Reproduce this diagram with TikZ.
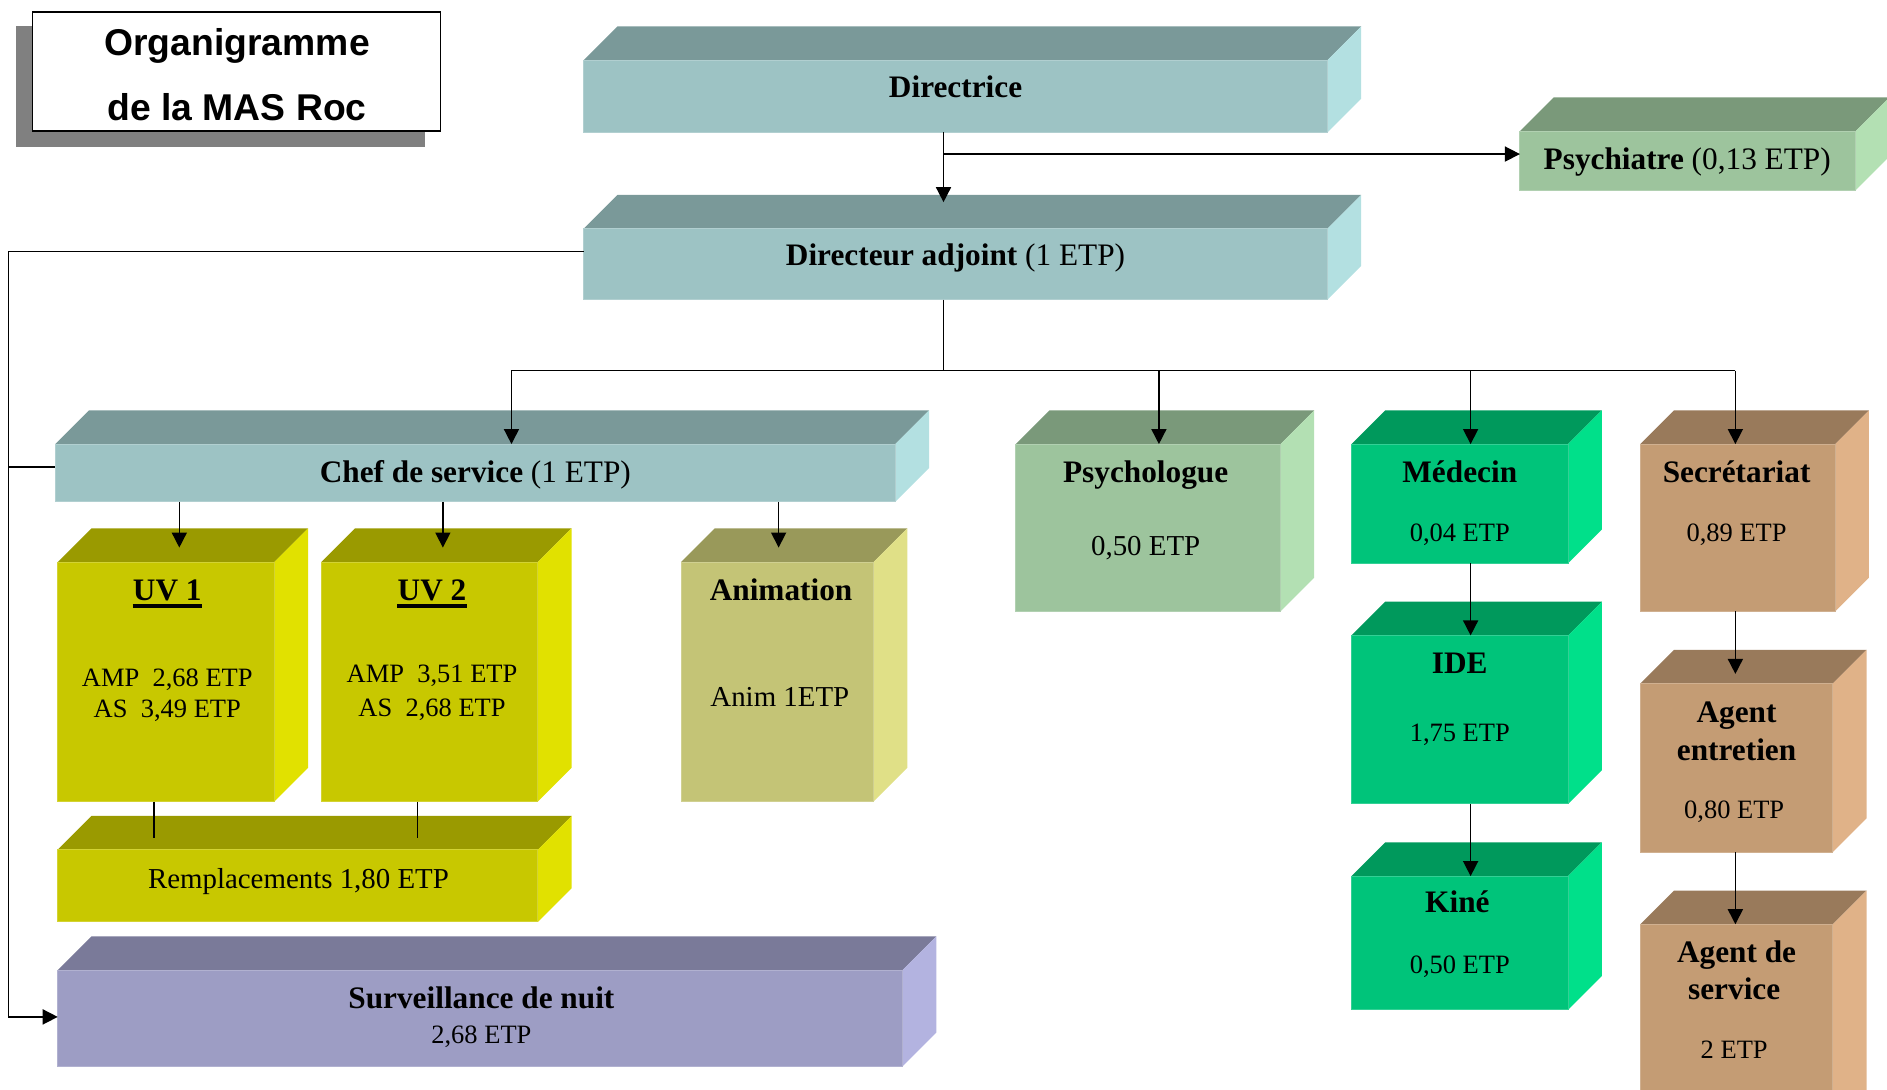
\documentclass[tikz,border=0pt]{standalone}
\usepackage{fontspec}
\setmainfont{Liberation Serif}
\newfontfamily\titlefont{Liberation Sans}
\usetikzlibrary{arrows.meta}

% face colours: F = front, T = top, S = side
\definecolor{tealF}{HTML}{9DC3C4}\definecolor{tealT}{HTML}{7A9999}\definecolor{tealS}{HTML}{B3E0E1}
\definecolor{sageF}{HTML}{9DC49D}\definecolor{sageT}{HTML}{7A997A}\definecolor{sageS}{HTML}{B3E0B3}
\definecolor{yelF}{HTML}{C8C800}\definecolor{yelT}{HTML}{9A9A00}\definecolor{yelS}{HTML}{E1E100}
\definecolor{oliveF}{HTML}{C4C476}\definecolor{oliveT}{HTML}{99995A}\definecolor{oliveS}{HTML}{E0E087}
\definecolor{lavF}{HTML}{9D9DC4}\definecolor{lavT}{HTML}{7A7A99}\definecolor{lavS}{HTML}{B3B3E0}
\definecolor{greenF}{HTML}{00C47A}\definecolor{greenT}{HTML}{00995C}\definecolor{greenS}{HTML}{00E08A}
\definecolor{brownF}{HTML}{C49C74}\definecolor{brownT}{HTML}{997A5B}\definecolor{brownS}{HTML}{E0B288}
\definecolor{shadowgray}{HTML}{808080}

% 3D block: name, left, top, width, height, colour prefix
\newcommand\cube[6]{%
  \node[face, fill=#6F, minimum width=#4pt, minimum height=#5pt] (#1) at (#2,#3) {};
  \fill[#6T] (#1.north west) -- ++(28,-28) -- ++(#4,0) -- (#1.north east) -- cycle;
  \fill[#6S] (#1.north east) -- ++(28,-28) -- ++(0,#5) -- (#1.south east) -- cycle;
  \draw[#6F!80!white, line width=0.8pt] (#1.north west) rectangle (#1.south east);
}

\tikzset{
  face/.style={anchor=north west, inner sep=0pt, outer sep=0pt, draw=none},
  ln/.style={line width=1.3pt, black},
  arr/.style={ln, -{Triangle[length=12.5pt,width=12.5pt]}},
  bold/.style={font=\fontsize{26}{30}\selectfont\bfseries, text height=17.2pt, text depth=0pt, inner sep=0pt},
  reg/.style={font=\fontsize{26}{30}\selectfont, text height=17.2pt, text depth=0pt, inner sep=0pt},
  mid/.style={font=\fontsize{24}{28}\selectfont, text height=15.9pt, text depth=0pt, inner sep=0pt},
  small/.style={font=\fontsize{22}{26}\selectfont, text height=14.6pt, text depth=0pt, inner sep=0pt},
  ttl/.style={font=\titlefont\bfseries\fontsize{31}{35}\selectfont, text height=22.2pt, text depth=0pt, inner sep=0pt},
}

\begin{document}
\begin{tikzpicture}[x=1pt,y=-1pt]
\path[use as bounding box] (0,0) rectangle (1568,905);
\clip (0,0) rectangle (1568,905);

% title card with drop shadow
\fill[shadowgray] (13,22) rectangle (353,122);
\node[face, draw=black, line width=1.3pt, fill=white, minimum width=339pt, minimum height=99pt] (title) at (27,10) {};
\node[ttl] (t1) at (197,35) {Organigramme};
\node[ttl] (t2) at (197,89) {de la MAS Roc};

% blocks
\cube{dir}{485}{50}{618}{60}{teal}
\cube{psy}{1263}{109}{279}{49}{sage}
\cube{dadj}{485}{190}{618}{59}{teal}
\cube{chef}{46}{369}{698}{48}{teal}
\cube{uv1}{48}{467}{180}{199}{yel}
\cube{uv2}{267}{467}{180}{199}{yel}
\cube{anim}{566}{467}{160}{199}{olive}
\cube{rempl}{48}{706}{399}{60}{yel}
\cube{surv}{48}{806}{702}{80}{lav}
\cube{psyl}{844}{369}{220}{139}{sage}
\cube{med}{1123}{369}{180}{99}{green}
\cube{ide}{1123}{528}{180}{140}{green}
\cube{kine}{1123}{728}{180}{111}{green}
\cube{sec}{1363}{369}{162}{139}{brown}
\cube{agt}{1363}{568}{160}{140}{brown}
\cube{ags}{1363}{768}{160}{180}{brown}

% junctions of the connectors
\coordinate (j1) at (784,128);
\coordinate (j2) at (784,308);
\coordinate (bL) at (425,308);
\coordinate (bPs) at (963,308);
\coordinate (bM) at (1222,308);
\coordinate (bR) at (1442,308);
\coordinate (lT) at (7,209);
\coordinate (lC) at (7,388);
\coordinate (lB) at (7,845);
\coordinate (xu1) at (149,0);
\coordinate (xu2) at (368,0);
\coordinate (xan) at (647,0);
\coordinate (xr1) at (128,0);
\coordinate (xr2) at (347,0);

% connectors
\draw[ln] (dir.south -| j1) -- (j1);
\draw[arr, shorten >=22pt] (j1) -- (dadj.north -| j1);
\draw[arr] (j1) -- (psy.west |- j1);
\draw[ln] (dadj.south -| j2) -- (j2);
\draw[ln] (bL) -- (bR);
\draw[arr] (bL) -- (chef.north -| bL);
\draw[arr] (bPs) -- (psyl.north -| bPs);
\draw[arr] (bM) -- (med.north -| bM);
\draw[arr] (bR) -- (sec.north -| bR);
\draw[arr] (dadj.west |- lT) -- (lT) -- (lB) -- (surv.west |- lB);
\draw[ln] (lC) -- (chef.west |- lC);
\draw[arr, shorten >=12pt] (chef.south -| xu1) -- (uv1.north -| xu1);
\draw[arr, shorten >=12pt] (chef.south -| xu2) -- (uv2.north -| xu2);
\draw[arr, shorten >=12pt] (chef.south -| xan) -- (anim.north -| xan);
\draw[ln, shorten >=10pt] (uv1.south -| xr1) -- (rempl.north -| xr1);
\draw[ln, shorten >=10pt] (uv2.south -| xr2) -- (rempl.north -| xr2);
\draw[arr] (med.south -| bM) -- (ide.north -| bM);
\draw[arr] (ide.south -| bM) -- (kine.north -| bM);
\draw[arr, shorten >=8pt] (sec.south -| bR) -- (agt.north -| bR);
\draw[arr] (agt.south -| bR) -- (ags.north -| bR);

% labels
\node[bold] (tdir) at (794,72) {Directrice};
\node[reg] (tpsy) at (1402,132) {\textbf{Psychiatre} (0,13 ETP)};
\node[reg] (tdadj) at (794,212) {\textbf{Directeur adjoint} (1 ETP)};
\node[reg] (tchef) at (395,392) {\textbf{Chef de service} (1 ETP)};

\node[bold] (tuv1) at (139,490) {UV 1};
\draw[line width=3pt] ([yshift=-5pt]tuv1.base west) -- ([yshift=-5pt]tuv1.base east);
\node[small] (tuv1a) at (139,563) {AMP~~2,68 ETP};
\node[small] (tuv1b) at (139,589) {AS~~3,49 ETP};
\node[bold] (tuv2) at (359,490) {UV 2};
\draw[line width=3pt] ([yshift=-5pt]tuv2.base west) -- ([yshift=-5pt]tuv2.base east);
\node[small] (tuv2a) at (359,560) {AMP~~3,51 ETP};
\node[small] (tuv2b) at (359,588) {AS~~2,68 ETP};
\node[bold] (tanim) at (649,490) {Animation};
\node[mid] (tanim2) at (648,579) {Anim 1ETP};
\node[mid] (trempl) at (248,730) {Remplacements 1,80 ETP};
\node[bold] (tsurv) at (400,829) {Surveillance de nuit};
\node[small] (tsurv2) at (400,860) {2,68 ETP};

\node[bold] (tpsyl) at (952,392) {Psychologue};
\node[mid] (tpsyl2) at (952,454) {0,50 ETP};
\node[bold] (tmed) at (1213,392) {Médecin};
\node[small] (tmed2) at (1213,443) {0,04 ETP};
\node[bold] (tide) at (1213,551) {IDE};
\node[small] (tide2) at (1213,609) {1,75 ETP};
\node[bold] (tkine) at (1211,750) {Kiné};
\node[small] (tkine2) at (1213,802) {0,50 ETP};
\node[bold] (tsec) at (1443,392) {Secrétariat};
\node[small] (tsec2) at (1443,443) {0,89 ETP};
\node[bold] (tag1) at (1443,592) {Agent};
\node[bold] (tag1b) at (1443,623) {entretien};
\node[small] (tag1c) at (1441,673) {0,80 ETP};
\node[bold] (tag2) at (1443,791) {Agent de};
\node[bold] (tag2b) at (1441,822) {service};
\node[small] (tag2c) at (1441,872) {2 ETP};
\end{tikzpicture}
\end{document}
